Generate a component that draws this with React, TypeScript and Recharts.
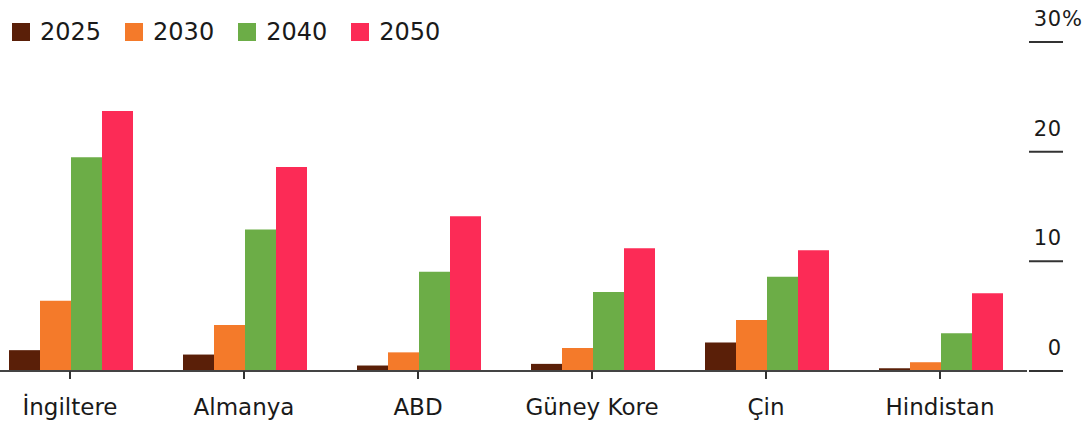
import React from 'react';
import { BarChart, Bar, XAxis, YAxis, Legend } from 'recharts';

const categories = ['İngiltere', 'Almanya', 'ABD', 'Güney Kore', 'Çin', 'Hindistan'];
const values2025 = [1.9, 1.5, 0.5, 0.65, 2.6, 0.25];
const values2030 = [6.4, 4.2, 1.7, 2.1, 4.65, 0.8];
const values2040 = [19.5, 12.9, 9.05, 7.2, 8.6, 3.45];
const values2050 = [23.7, 18.6, 14.1, 11.2, 11.0, 7.1];
const yearLabels = ['2025', '2030', '2040', '2050'];
const yearColors = ['#5a1f08', '#f47a2a', '#6cad47', '#fc2b56'];
const yTicks = [0, 10, 20, 30];

const data = categories.map((name, i) => ({
  name,
  y2025: values2025[i],
  y2030: values2030[i],
  y2040: values2040[i],
  y2050: values2050[i],
}));

const FONT = '"DejaVu Sans", sans-serif';

const XTick = (props: any) => {
  const { x, y, payload } = props;
  return (
    <text x={x} y={y + 34} textAnchor="middle" fontFamily={FONT} fontSize={23} fill="#1a1a1a">
      {payload.value}
    </text>
  );
};

const YTick = (props: any) => {
  const { x, y, payload } = props;
  return (
    <g>
      <line x1={x + 2} x2={x + 36} y1={y} y2={y} stroke="#333" strokeWidth={2} />
      <text x={x + 35} y={y - 16} textAnchor="end" fontFamily={FONT} fontSize={21} letterSpacing={0.8} fill="#1a1a1a">
        {payload.value}
      </text>
      {payload.value === 30 && (
        <text x={x + 35} y={y - 16} textAnchor="start" fontFamily={FONT} fontSize={21} fill="#1a1a1a">
          %
        </text>
      )}
    </g>
  );
};

const LegendContent = () => (
  <div style={{ display: 'flex', flexDirection: 'row', fontFamily: FONT, fontSize: 24, lineHeight: '24px', color: '#1a1a1a' }}>
    {yearLabels.map((label, i) => (
      <div key={label} style={{ display: 'flex', alignItems: 'center', marginRight: 24 }}>
        <div style={{ width: 18, height: 18, background: yearColors[i], marginRight: 10 }} />
        <span>{label}</span>
      </div>
    ))}
  </div>
);

export default function App() {
  return (
    <div style={{ position: 'absolute', left: -17, top: 0, width: 1108, height: 421, background: '#fff' }}>
      <BarChart
        width={1108}
        height={421}
        data={data}
        margin={{ top: 42, right: 0, left: 0, bottom: 0 }}
        barCategoryGap={26}
        barGap={0}
      >
        <XAxis
          dataKey="name"
          interval={0}
          height={50}
          tickSize={8}
          tickMargin={2}
          axisLine={{ stroke: '#444', strokeWidth: 2 }}
          tickLine={{ stroke: '#333', strokeWidth: 2 }}
          tick={<XTick />}
        />
        <YAxis
          orientation="right"
          width={64}
          domain={[0, 30]}
          ticks={yTicks}
          axisLine={false}
          tickLine={false}
          tickSize={0}
          tickMargin={0}
          tick={<YTick />}
        />
        <Legend
          layout="vertical"
          align="center"
          verticalAlign="middle"
          content={<LegendContent />}
          wrapperStyle={{ top: 20, left: 29, width: 'auto' }}
        />
        <Bar dataKey="y2025" fill={yearColors[0]} isAnimationActive={false} />
        <Bar dataKey="y2030" fill={yearColors[1]} isAnimationActive={false} />
        <Bar dataKey="y2040" fill={yearColors[2]} isAnimationActive={false} />
        <Bar dataKey="y2050" fill={yearColors[3]} isAnimationActive={false} />
      </BarChart>
    </div>
  );
}
